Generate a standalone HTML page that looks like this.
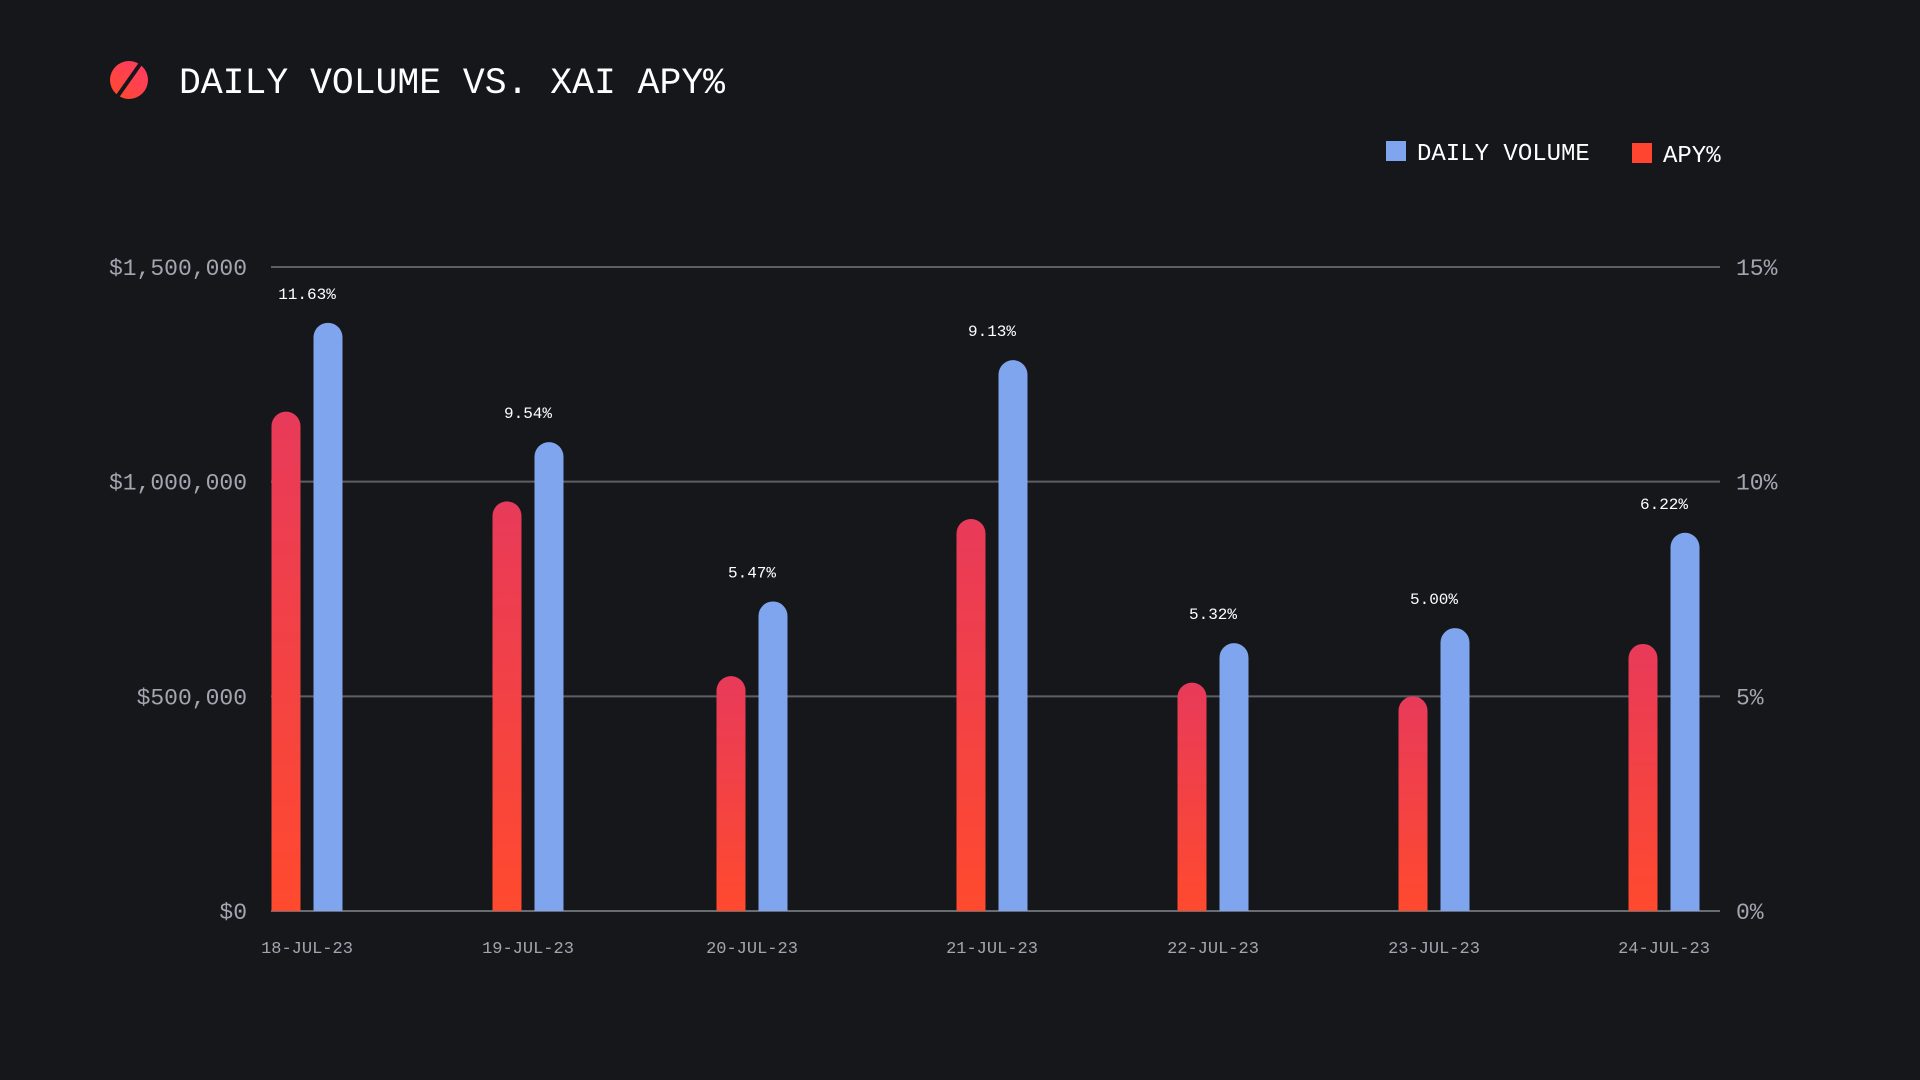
<!DOCTYPE html>
<html><head><meta charset="utf-8"><style>
html,body{margin:0;padding:0;background:#16171b;width:1920px;height:1080px;overflow:hidden}
svg{display:block}
text{font-family:"Liberation Mono",monospace}
</style></head><body>
<svg id="chart" width="1920" height="1080" viewBox="0 0 1920 1080" xmlns="http://www.w3.org/2000/svg">
<defs>
<linearGradient id="redGrad" x1="0" y1="0" x2="0" y2="1"><stop offset="0" stop-color="#e83a5a"/><stop offset="1" stop-color="#ff4a2e"/></linearGradient>
<linearGradient id="iconGrad" x1="1" y1="0" x2="0" y2="1"><stop offset="0" stop-color="#ff3a6a"/><stop offset="1" stop-color="#ff4a2a"/></linearGradient>
</defs>
<g>
<circle cx="129" cy="80" r="19" fill="url(#iconGrad)"/>
<line x1="141" y1="63" x2="117" y2="97" stroke="#16171b" stroke-width="4"/>
</g>
<text x="179" y="93" font-size="37" fill="#ffffff" textLength="546" lengthAdjust="spacingAndGlyphs">DAILY VOLUME VS. XAI APY%</text>
<g>
<rect x="1386" y="141" width="20" height="20" fill="#7fa5ee"/>
<text x="1417" y="160" font-size="24" fill="#ffffff">DAILY VOLUME</text>
<rect x="1632" y="143" width="20" height="20" fill="#ff4530"/>
<text x="1663" y="162" font-size="24" fill="#ffffff">APY%</text>
</g>
<g id="grid"></g>
<g id="bars"></g>
<g id="labels"></g>
</svg>
<script>
const categories = ["18-JUL-23","19-JUL-23","20-JUL-23","21-JUL-23","22-JUL-23","23-JUL-23","24-JUL-23"];
const volumeValues = [1370000,1092000,721000,1283000,624000,659000,881000];
const apyValues = [11.63,9.54,5.47,9.13,5.32,5.00,6.22];
const leftTicks = [0,500000,1000000,1500000];
const leftTickLabels = ["$0","$500,000","$1,000,000","$1,500,000"];
const rightTicks = [0,5,10,15];
const rightTickLabels = ["0%","5%","10%","15%"];

const NS="http://www.w3.org/2000/svg";
const plotL=271, plotR=1720, y0=911, yTop=267;
const groupCenters=[307,528,752,992,1213,1434,1664];
function yVol(v){return y0-(v/1500000)*(y0-yTop);}
function yApy(v){return y0-(v/15)*(y0-yTop);}
function xCat(i){return groupCenters[i];}
function mk(tag,attrs,parent){const e=document.createElementNS(NS,tag);for(const k in attrs)e.setAttribute(k,attrs[k]);parent.appendChild(e);return e;}
const grid=document.getElementById('grid'),bars=document.getElementById('bars'),labels=document.getElementById('labels');

leftTicks.forEach((t,i)=>{
  const y=yVol(t);
  const l=mk('line',{x1:plotL,x2:plotR,y1:y,y2:y,stroke:i===0?'#6a6c73':'#5d5f66','stroke-width':2},grid);
  
  
  const tx=mk('text',{x:247,y:y+8,'font-size':23,fill:'#a3a6b0','text-anchor':'end'},labels);
  tx.textContent=leftTickLabels[i];
  
  
});
rightTicks.forEach((t,i)=>{
  const y=yApy(t);
  const tx=mk('text',{x:1736,y:y+8,'font-size':23,fill:'#a3a6b0'},labels);
  tx.textContent=rightTickLabels[i];
  
  
});
const bw=29, off=21;
function bar(cx,top,fill){
  const r=bw/2;
  const d=`M${cx-r},${y0} L${cx-r},${top+r} A${r},${r} 0 0 1 ${cx+r},${top+r} L${cx+r},${y0} Z`;
  return mk('path',{d:d,fill:fill},bars);
}
categories.forEach((c,i)=>{
  const cx=xCat(i);
  const rb=bar(cx-off,yApy(apyValues[i]),'url(#redGrad)');
  
  
  const bb=bar(cx+off,yVol(volumeValues[i]),'#7fa5ee');
  
  
  const top=Math.min(yVol(volumeValues[i]),yApy(apyValues[i]));
  const vl=mk('text',{x:cx,y:top-24,'font-size':16,fill:'#ffffff','text-anchor':'middle'},labels);
  vl.textContent=apyValues[i].toFixed(2)+'%';
  
  
  const xl=mk('text',{x:cx,y:953,'font-size':17,fill:'#a3a6b0','text-anchor':'middle'},labels);
  xl.textContent=c;
  
  
});
</script>
</body></html>
